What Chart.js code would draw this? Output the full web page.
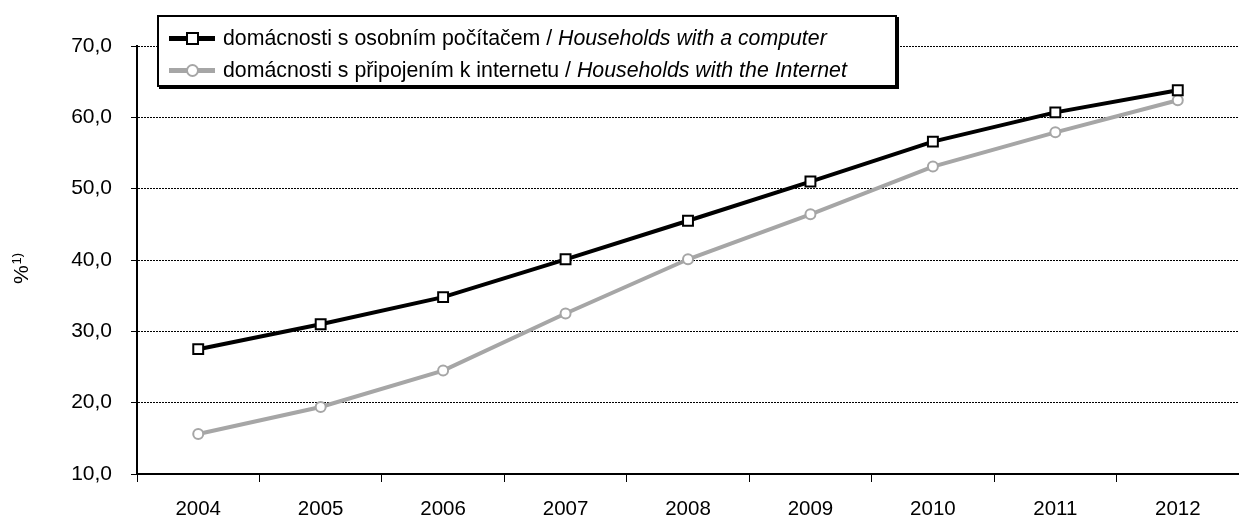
<!DOCTYPE html>
<html>
<head>
<meta charset="utf-8">
<script src="https://cdn.jsdelivr.net/npm/chart.js@4/dist/chart.umd.min.js"></script>
<style>
  body { margin: 0; background: #fff; }
  #wrap { position: relative; width: 1239px; height: 521px; }
  #legend {
    position: absolute; left: 157px; top: 15px; width: 740px; height: 72px;
    box-sizing: border-box; border: 2px solid #000; box-shadow: 2px 2px 0 #000;
    background: #fff; padding-top: 5px;
    font-family: Arial, "Liberation Sans", sans-serif; font-size: 21.3px; color: #000;
  }
  .row { position: relative; height: 32px; line-height: 32px; padding-left: 64px; white-space: nowrap; }
  .sym { position: absolute; left: 10px; top: 14px; width: 46px; height: 5px; }
  .mark { position: absolute; left: 17px; top: -4px; width: 9px; height: 9px; background: #fff; border: 2px solid; }
  .en { font-style: italic; }
</style>
</head>
<body>
<div id="wrap">
  <canvas id="chart" width="1239" height="521"></canvas>
  <div id="legend"></div>
</div>
<script>
const years = ['2004', '2005', '2006', '2007', '2008', '2009', '2010', '2011', '2012'];
const computer = [27.5, 31.0, 34.8, 40.1, 45.5, 51.0, 56.6, 60.7, 63.8];
const internet = [15.6, 19.4, 24.5, 32.5, 40.1, 46.4, 53.1, 57.9, 62.4];
const labelsCz = ['domácnosti s osobním počítačem / ', 'domácnosti s připojením k internetu / '];
const labelsEn = ['Households with a computer', 'Households with the Internet'];

const FONT = 'Arial, "Liberation Sans", sans-serif';
const BLACK = '#000000';
const GREY = '#a6a6a6';

// y axis title "%1)" with superscript, drawn rotated
const yTitle = {
    id: 'yTitle',
    afterDraw(chart) {
        const ctx = chart.ctx;
        ctx.save();
        ctx.translate(21, 269);
        ctx.rotate(-Math.PI / 2);
        ctx.fillStyle = BLACK;
        ctx.textAlign = 'left';
        ctx.textBaseline = 'alphabetic';
        ctx.font = 'normal 21px "Liberation Sans", Arial, sans-serif';
        const w1 = ctx.measureText('%').width;
        ctx.font = 'normal 13px "Liberation Sans", Arial, sans-serif';
        const w2 = ctx.measureText('1)').width;
        const x0 = -(w1 + w2) / 2;
        ctx.font = 'normal 21px "Liberation Sans", Arial, sans-serif';
        ctx.fillText('%', x0, 7);
        ctx.font = 'normal 13px "Liberation Sans", Arial, sans-serif';
        ctx.fillText('1)', x0 + w1 + 1, 0);
        ctx.restore();
    }
};

const chart = new Chart(document.getElementById('chart'), {
    type: 'line',
    data: {
        labels: years,
        datasets: [{
            label: labelsCz[0] + labelsEn[0],
            data: computer,
            borderColor: BLACK,
            borderWidth: 4,
            pointStyle: 'rect',
            pointRadius: 7,
            pointBorderWidth: 2,
            pointBackgroundColor: '#fff',
            pointBorderColor: BLACK,
            tension: 0
        }, {
            label: labelsCz[1] + labelsEn[1],
            data: internet,
            borderColor: GREY,
            borderWidth: 4,
            pointStyle: 'circle',
            pointRadius: 5,
            pointBorderWidth: 2,
            pointBackgroundColor: '#fff',
            pointBorderColor: GREY,
            tension: 0
        }]
    },
    options: {
        responsive: false,
        devicePixelRatio: 1,
        animation: false,
        layout: { autoPadding: false, padding: { top: 46, right: 0, left: 0, bottom: 0 } },
        plugins: {
            legend: { display: false },
            tooltip: { enabled: false }
        },
        scales: {
            x: {
                offset: true,
                afterFit: s => {
                    s.height = 47;
                    s.paddingLeft = 0;
                    s.paddingRight = 0;
                },
                grid: {
                    offset: true,
                    drawOnChartArea: false,
                    color: BLACK,
                    tickLength: 8,
                    lineWidth: 1
                },
                border: { color: BLACK, width: 2 },
                ticks: {
                    color: BLACK,
                    font: { family: FONT, size: 20.5 },
                    padding: 15,
                    maxRotation: 0
                }
            },
            y: {
                min: 10,
                max: 70,
                afterFit: s => { s.width = 137; },
                grid: {
                    color: BLACK,
                    lineWidth: 1,
                    tickLength: 6,
                    tickBorderDash: []
                },
                border: { color: BLACK, width: 2, dash: [2, 1] },
                ticks: {
                    stepSize: 10,
                    color: BLACK,
                    padding: 19,
                    font: { family: FONT, size: 21 },
                    callback: v => v.toFixed(1).replace('.', ',')
                }
            }
        }
    },
    plugins: [yTitle]
});

// html legend with czech/english (italic) parts
const legendDiv = document.getElementById('legend');
chart.data.datasets.forEach((ds, i) => {
    const row = document.createElement('div');
    row.className = 'row';
    const sym = document.createElement('span');
    sym.className = 'sym';
    sym.style.background = ds.borderColor;
    const mark = document.createElement('span');
    mark.className = 'mark';
    mark.style.borderColor = ds.borderColor;
    if (ds.pointStyle === 'circle') mark.style.borderRadius = '50%';
    sym.appendChild(mark);
    row.appendChild(sym);
    row.appendChild(document.createTextNode(labelsCz[i]));
    const en = document.createElement('span');
    en.className = 'en';
    en.textContent = labelsEn[i];
    row.appendChild(en);
    legendDiv.appendChild(row);
});
</script>
</body>
</html>
